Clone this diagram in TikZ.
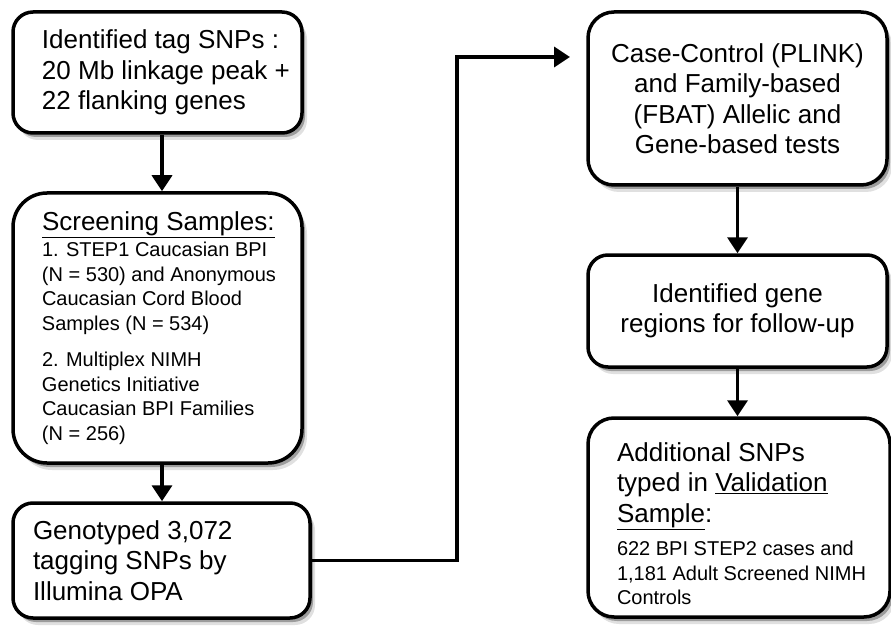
\documentclass[tikz,border=0pt]{standalone}
\usepackage{fontspec}
\setmainfont{Liberation Sans}
\usetikzlibrary{arrows.meta,shadows}

\newcommand{\flowbig}{\fontsize{26}{30.5}\selectfont}
\newcommand{\flowsmall}{\fontsize{20}{24.5}\selectfont}

\tikzset{
  box/.style={draw=black, line width=3.5pt, rounded corners=20pt, fill=white,
    drop shadow={shadow xshift=5pt, shadow yshift=-7pt, fill=black, opacity=0.12},
    drop shadow={shadow xshift=3pt, shadow yshift=-4pt, fill=black, opacity=0.3},
    inner sep=0pt, font=\flowbig},
  flow/.style={black, line width=3.5pt, -{Triangle[width=20pt,length=16pt]}}
}

\begin{document}
\begin{tikzpicture}[x=1pt,y=-1pt]
\useasboundingbox (0,0) rectangle (891,631);

\node[box, minimum width=289pt, minimum height=121pt,
      text width=270pt, align=flush left] (tag) at (157.5,72.5)
  {\leftskip=19.5pt Identified tag SNPs :\\ 20 Mb linkage peak +\\
   22 flanking genes\par};
\node[box, rounded corners=34pt, minimum width=289pt, minimum height=270pt,
      text width=250pt, align=flush left] (screen) at (157.5,328)
  {{\flowbig\leftskip=9.5pt \underline{Screening Samples:}\par}\vspace{2pt}
   \flowsmall\leftskip=9.5pt 1. STEP1 Caucasian BPI\\ (N = 530) and Anonymous\\
   Caucasian Cord Blood\\ Samples (N = 534)\par\vspace{12pt}
   2. Multiplex NIMH\\ Genetics Initiative\\ Caucasian BPI Families\\
   (N = 256)\par};
\node[box, minimum width=297pt, minimum height=115pt,
      text width=257pt, align=flush left] (geno) at (161.5,560.5)
  {Genotyped 3,072\\ tagging SNPs by\\ Illumina OPA\par};

\node[box, rounded corners=26pt, minimum width=299pt, minimum height=173pt,
      align=center] (tests) at (737.5,98.5)
  {Case-Control (PLINK)\\ and Family-based\\ (FBAT) Allelic and\\
   Gene-based tests};
\node[box, minimum width=299pt, minimum height=112pt,
      align=center] (regions) at (737.5,311)
  {Identified gene\\ regions for follow-up};
\node[box, rounded corners=26pt, minimum width=302pt, minimum height=199pt,
      text width=270pt, align=flush left] (valid) at (739,517.5)
  {{\flowbig\leftskip=13pt \rule{0pt}{31pt}Additional SNPs\\
   typed in \underline{Validation}\\ \underline{Sample}:\par}\vspace{9pt}
   \flowsmall\leftskip=13pt 622 BPI STEP2 cases and\\ 1,181 Adult Screened NIMH\\
   Controls\par};

\coordinate (bend) at (457,0);
\coordinate (entry) at (570,57);

\draw[flow] ([xshift=4.5pt]tag.south) -- ([xshift=4.5pt]screen.north);
\draw[flow] ([xshift=4.5pt]screen.south) -- ([xshift=0.5pt]geno.north);
\draw[flow] (geno.east) -- (geno.east -| bend) |- (entry);
\draw[flow] (tests.south) -- (regions.south |- regions.north);
\draw[flow] (regions.south) -- ([xshift=-1.5pt]valid.north);

\end{tikzpicture}
\end{document}
